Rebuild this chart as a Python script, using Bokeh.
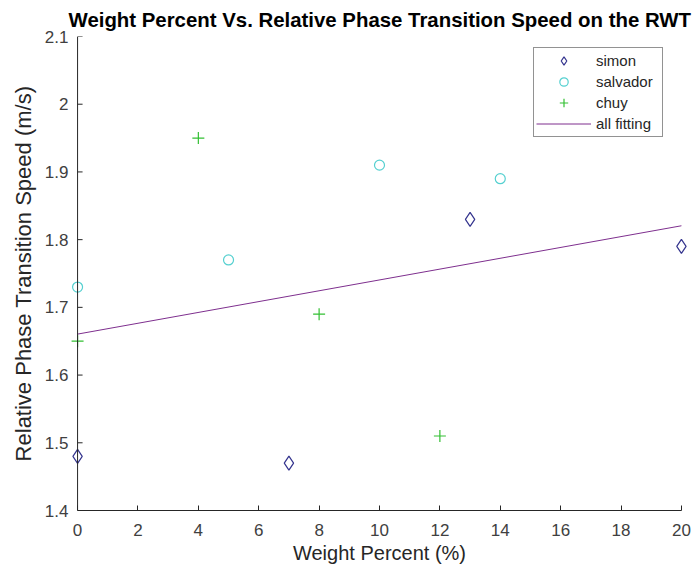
import numpy as np
from bokeh.plotting import figure
from bokeh.models import Range1d, FixedTicker, Legend, LegendItem, Span
from bokeh.embed import file_html
from bokeh.resources import INLINE

# Measurements per subject: weight percent vs. relative phase transition speed
simon_x = [0, 7, 13, 20]
simon_y = [1.48, 1.47, 1.83, 1.79]
salvador_x = [0, 5, 10, 14]
salvador_y = [1.73, 1.77, 1.91, 1.89]
chuy_x = [0, 4, 8, 12]
chuy_y = [1.65, 1.95, 1.69, 1.51]

x_ticks = [0, 2, 4, 6, 8, 10, 12, 14, 16, 18, 20]
y_ticks = [1.4, 1.5, 1.6, 1.7, 1.8, 1.9, 2.0, 2.1]
y_tick_labels = {1.4: "1.4", 1.5: "1.5", 1.6: "1.6", 1.7: "1.7", 1.8: "1.8",
                 1.9: "1.9", 2.0: "2", 2.1: "2.1"}

# Least-squares line through all subjects' points
all_x = np.array(simon_x + salvador_x + chuy_x, dtype=float)
all_y = np.array(simon_y + salvador_y + chuy_y, dtype=float)
slope, intercept = np.polyfit(all_x, all_y, 1)
fit_x = [0, 20]
fit_y = [intercept + slope * v for v in fit_x]

FONT = "Liberation Sans"
AXIS = "#262626"

# The x range is padded a little so markers sitting on x = 0 and x = 20 stay
# whole; the x axis is bounded to 0..20 and the y axis line is drawn at x = 0.
p = figure(width=693, height=571, output_backend="svg", toolbar_location=None,
           x_range=Range1d(-0.4, 20.4), y_range=Range1d(1.4, 2.1),
           min_border_left=65, min_border_right=0, min_border_top=34,
           min_border_bottom=61)
p.outline_line_color = None
p.background_fill_color = "white"
p.border_fill_color = "white"
p.grid.visible = False

p.title.text = "Weight Percent Vs. Relative Phase Transition Speed on the RWT"
p.title.text_font = FONT
p.title.text_font_size = "20.4px"
p.title.text_font_style = "bold"
p.title.align = "left"
p.title.text_color = "black"
p.title.offset = 3
p.title.standoff = 12

for ax in (p.xaxis[0], p.yaxis[0]):
    ax.axis_line_color = AXIS
    ax.major_tick_line_color = AXIS
    ax.major_tick_in = 5
    ax.major_tick_out = 0
    ax.minor_tick_line_color = None
    ax.major_label_text_font = FONT
    ax.major_label_text_font_size = "17px"
    ax.major_label_text_color = "#404040"
    ax.axis_label_text_font = FONT
    ax.axis_label_text_font_size = "20px"
    ax.axis_label_text_font_style = "normal"
    ax.axis_label_text_color = "#262626"

p.xaxis.ticker = FixedTicker(ticks=x_ticks)
p.xaxis.bounds = (0, 20)
p.xaxis.axis_label = "Weight Percent (%)"
p.xaxis.major_label_standoff = 13
p.xaxis.axis_label_standoff = 3

# y axis supplies the tick labels and title; its line and ticks sit at x = 0
p.yaxis.ticker = FixedTicker(ticks=y_ticks)
p.yaxis.major_label_overrides = y_tick_labels
p.yaxis.axis_label = "Relative Phase Transition Speed (m/s)"
p.yaxis.axis_label_text_font_size = "22px"
p.yaxis.axis_line_color = None
p.yaxis.major_tick_line_color = None
p.yaxis.major_label_standoff = -3
p.yaxis.axis_label_standoff = 6

p.add_layout(Span(location=0, dimension="height", line_color=AXIS, line_width=1))
p.ray(x=[0] * len(y_ticks), y=y_ticks, length=5, length_units="screen",
      angle=0, line_color=AXIS, line_width=1)

r_simon = p.scatter(simon_x, simon_y, marker="diamond", size=14,
                    fill_color=None, line_color="#34348e", line_width=1.2)
r_salv = p.scatter(salvador_x, salvador_y, marker="circle", size=10,
                   fill_color=None, line_color="#55d0d0", line_width=1.2)
r_chuy = p.scatter(chuy_x, chuy_y, marker="cross", size=12,
                   line_color="#33c033", line_width=1.2)
r_fit = p.line(fit_x, fit_y, line_color="#7e2f8e", line_width=1)

legend = Legend(items=[
    LegendItem(label="simon", renderers=[r_simon]),
    LegendItem(label="salvador", renderers=[r_salv]),
    LegendItem(label="chuy", renderers=[r_chuy]),
    LegendItem(label="all fitting", renderers=[r_fit]),
], location=(468, 373))
legend.label_text_font = FONT
legend.label_text_font_size = "15px"
legend.label_text_color = "#262626"
legend.glyph_width = 55
legend.glyph_height = 21
legend.label_height = 21
legend.label_width = 64
legend.label_standoff = 5
legend.spacing = 0
legend.padding = 2
legend.margin = 0
legend.border_line_color = AXIS
legend.border_line_width = 1
legend.background_fill_color = "white"
p.add_layout(legend, "center")

open("out.html", "w").write(file_html(p, INLINE))
